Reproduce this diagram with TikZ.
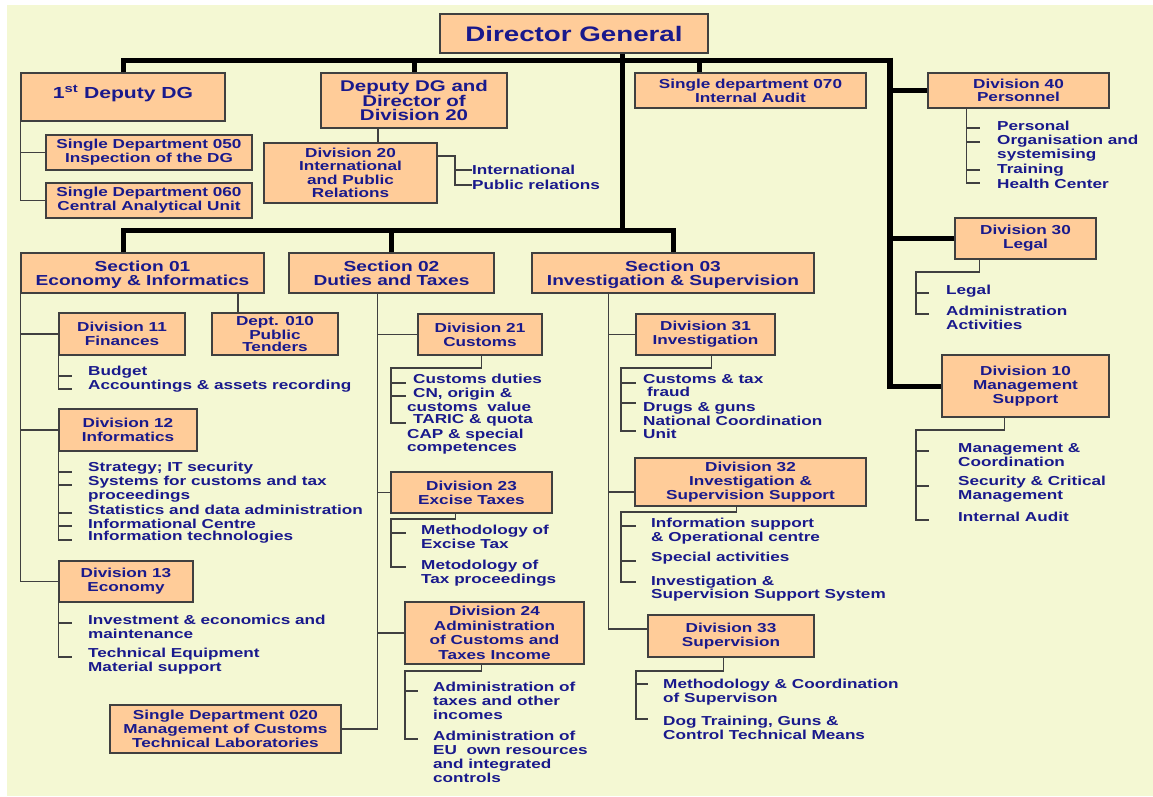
\documentclass[tikz,border=0pt]{standalone}
\usepackage{fontspec}
\setmainfont{Liberation Sans}[FakeStretch=1.32]
\definecolor{paper}{RGB}{244,248,211}
\definecolor{peach}{RGB}{255,204,153}
\definecolor{inkblue}{RGB}{25,25,140}
\definecolor{edge}{RGB}{64,64,64}
\newcommand\fs[2]{\fontsize{#1}{#2}\selectfont\bfseries}
% box: [options]{name}{x1}{y1}{x2}{y2}{text}
\newcommand\bx[7][]{\node[box, minimum width={(#5)-(#3)}, minimum height={(#6)-(#4)}, #1]
  (#2) at ({((#3)+(#5))/2},{((#4)+(#6))/2}) {#7};}
\tikzset{
  box/.style={draw=edge, line width=1.4pt, fill=peach, inner sep=0pt, align=center,
    text=inkblue, font=\fs{13}{14}},
  item/.style={anchor=west, inner sep=0pt, align=left, text=inkblue, font=\fs{13}{14}},
  main/.style={line width=5pt, black, line join=miter},
  sub/.style={line width=1.4pt, draw=edge},
  sectiontext/.style={font=\fs{14.5}{14.5}, text depth=0pt},
}
\begin{document}
\begin{tikzpicture}[x=1pt,y=-1pt]
\useasboundingbox (0,0) rectangle (1153,796);
\fill[white] (0,0) rectangle (1153,796);
\fill[paper] (7,5) rectangle (1153,796);

% ---- boxes ----
\bx[font=\fs{21}{24}]{dg}{440}{14}{708}{53}{Director General}
\bx[font=\fs{16}{18}, text depth=11pt]{dep1}{21}{73}{225}{121}{1\textsuperscript{st} Deputy DG}
\bx[font=\fs{15.5}{14.5}]{dep2}{321}{73}{507}{128}{Deputy DG and\\Director of\\Division 20}
\bx[font=\fs{13}{13.5}]{div20}{264}{143}{437}{203}{Division 20\\International\\and Public\\Relations}
\bx{sd050}{46}{135}{252}{170}{Single Department 050\\Inspection of the DG}
\bx{sd060}{46}{183}{252}{218}{Single Department 060\\Central Analytical Unit}
\bx{audit}{635}{73}{866}{108}{Single department 070\\Internal Audit}
\bx[font=\fs{13}{12.5}]{div40}{928}{73}{1109}{108}{Division 40\\Personnel}
\bx{div30}{955}{218}{1096}{259}{Division 30\\Legal}
\bx{div10}{942}{355}{1109}{417}{Division 10\\Management\\Support}
\bx[sectiontext]{sec1}{21}{253}{264}{293}{Section 01\\Economy \& Informatics}
\bx[sectiontext]{sec2}{289}{253}{494}{293}{Section 02\\Duties and Taxes}
\bx[sectiontext]{sec3}{532}{253}{814}{293}{Section 03\\Investigation \& Supervision}
\bx{div11}{59}{313}{185}{355}{Division 11\\Finances}
\bx[font=\fs{13}{12}]{dept010}{212}{313}{338}{355}{Dept. 010\\Public\\Tenders}
\bx{div12}{59}{409}{197}{451}{Division 12\\Informatics}
\bx{div13}{59}{561}{193}{602}{Division 13\\Economy}
\bx{sd020}{110}{705}{341}{753}{Single Department 020\\Management of Customs\\Technical Laboratories}
\bx{div21}{418}{314}{542}{355}{Division 21\\Customs}
\bx{div23}{391}{472}{552}{513}{Division 23\\Excise Taxes}
\bx[font=\fs{13}{14.5}]{div24}{405}{602}{584}{664}{Division 24\\Administration\\of Customs and\\Taxes Income}
\bx{div31}{636}{314}{775}{355}{Division 31\\Investigation}
\bx{div32}{635}{458}{866}{506}{Division 32\\Investigation \&\\Supervision Support}
\bx{div33}{648}{615}{814}{657}{Division 33\\Supervision}

% ---- main hierarchy ----
\coordinate (tb) at (0,60);
\coordinate (sb) at (0,230);
\coordinate (rs) at (890,60);
\draw[main] (dep1.north) -- (dep1.north |- tb) -- (rs) -- (rs |- div10.west) -- (div10.west);
\draw[line width=6.5pt] ([yshift=2.5]rs) -- ([yshift=-3.25]rs |- div10.west);
\draw[main] (dep2.north) -- (dep2.north |- tb);
\draw[main] ([xshift=-51]audit.north) -- ([xshift=-51]audit.north |- tb);
\draw[main] (div40.west) -- (div40.west -| rs);
\draw[main] (div30.west) -- (div30.west -| rs);
\draw[main] ([xshift=48]dg.south) -- ([xshift=48]dg.south |- sb);
\draw[main] ([xshift=-19.5]sec1.north) -- ([xshift=-19.5]sec1.north |- sb) -- (sec3.north |- sb) -- (sec3.north);
\draw[main] (sec2.north) -- (sec2.north |- sb);

% ---- 1st deputy ----
\draw[sub] (dep1.south west) |- (sd060.west);
\draw[sub] (sd050.west) -- (sd050.west -| dep1.south west);

% ---- deputy DG / division 20 ----
\draw[sub] ([xshift=-36]dep2.south) -- ([xshift=-36]dep2.south |- div20.north);
\node[item] (i20a) at (472,170) {International};
\node[item] (i20b) at (472,185) {Public relations};
\draw[sub] ([yshift=17]div20.east) -| ([xshift=-17]i20b.west) -- (i20b.west);
\draw[sub] ([xshift=-17]i20a.west) -- (i20a.west);

% ---- division 40 ----
\coordinate (s40) at ([xshift=39]div40.south west);
\coordinate (t40a) at (980,128); \coordinate (t40b) at (980,142);
\coordinate (t40c) at (980,170); \coordinate (t40d) at (980,183);
\draw[sub] (s40) |- (t40d);
\foreach \t in {t40a,t40b,t40c} \draw[sub] (\t -| s40) -- (\t);
\node[item] (p1) at (997,126) {Personal};
\node[item] (p2) at (997,148) {Organisation and\\systemising};
\node[item] (p3) at (997,170) {Training};
\node[item] (p4) at (997,184) {Health Center};

% ---- division 30 ----
\coordinate (s30) at ([xshift=25]div30.south west);
\coordinate (j30) at (916,272);
\coordinate (t30a) at (929,293); \coordinate (t30b) at (929,314);
\draw[sub] (s30) |- (j30) |- (t30b);
\draw[sub] (t30a -| j30) -- (t30a);
\node[item] (l1) at (946,291) {Legal};
\node[item] (l2) at (946,318) {Administration\\Activities};

% ---- division 10 ----
\coordinate (s10) at ([xshift=63]div10.south west);
\coordinate (j10) at (916,430);
\coordinate (t10a) at (929,451); \coordinate (t10b) at (929,486); \coordinate (t10c) at (929,520);
\draw[sub] (s10) |- (j10) |- (t10c);
\foreach \t in {t10a,t10b} \draw[sub] (\t -| j10) -- (\t);
\node[item] (m1) at (958,455.5) {Management \&\\Coordination};
\node[item] (m2) at (958,489.5) {Security \& Critical\\Management};
\node[item] (m3) at (958,517) {Internal Audit};

% ---- section 01 ----
\draw[sub] (sec1.south west) |- (div13.west);
\draw[sub] (div11.west) -- (div11.west -| sec1.south west);
\draw[sub] (div12.west) -- (div12.west -| sec1.south west);
\draw[sub] ([xshift=-37]dept010.north) -- ([xshift=-37]dept010.north |- sec1.south);

\coordinate (t11a) at (72,376); \coordinate (t11b) at (72,389);
\draw[sub] (div11.south west) |- (t11b);
\draw[sub] (t11a -| div11.south west) -- (t11a);
\node[item] (f1) at (88,372) {Budget};
\node[item] (f2) at (88,386) {Accountings \& assets recording};

\coordinate (t12a) at (72,472); \coordinate (t12b) at (72,485); \coordinate (t12c) at (72,513);
\coordinate (t12d) at (72,526); \coordinate (t12e) at (72,540);
\draw[sub] (div12.south west) |- (t12e);
\foreach \t in {t12a,t12b,t12c,t12d} \draw[sub] (\t -| div12.south west) -- (\t);
\node[item] (n1) at (88,468) {Strategy; IT security};
\node[item] (n2) at (88,489) {Systems for customs and tax\\proceedings};
\node[item] (n3) at (88,510) {Statistics and data administration};
\node[item] (n4) at (88,524) {Informational Centre};
\node[item] (n5) at (88,537) {Information technologies};

\coordinate (t13a) at (72,623); \coordinate (t13b) at (72,657);
\draw[sub] (div13.south west) |- (t13b);
\draw[sub] (t13a -| div13.south west) -- (t13a);
\node[item] (e1) at (88,626.5) {Investment \& economics and\\maintenance};
\node[item] (e2) at (88,661.5) {Technical Equipment\\Material support};

% ---- section 02 ----
\coordinate (s02) at ([xshift=89]sec2.south west);
\draw[sub] (s02) |- (sd020.east);
\draw[sub] (div21.west) -- (div21.west -| s02);
\draw[sub] (div23.west) -- (div23.west -| s02);
\draw[sub] (div24.west) -- (div24.west -| s02);

\coordinate (s21) at ([xshift=64]div21.south west);
\coordinate (j21) at (391,368);
\coordinate (t21a) at (406,383); \coordinate (t21b) at (406,396); \coordinate (t21c) at (406,423);
\draw[sub] (s21) |- (j21) |- (t21c);
\foreach \t in {t21a,t21b} \draw[sub] (\t -| j21) -- (\t);
\node[item] (c1) at (413,379) {Customs duties};
\node[item] (c2) at (413,394) {CN, origin \&};
\node[item] (c3) at (407,407) {customs\ \ value};
\node[item] (c4) at (413,420) {TARIC \& quota};
\node[item] (c5) at (407,435) {CAP \& special};
\node[item] (c6) at (407,449) {competences};

\coordinate (s23) at ([xshift=65]div23.south west);
\coordinate (j23) at (391,519);
\coordinate (t23a) at (406,533); \coordinate (t23b) at (406,567);
\draw[sub] (s23) |- (j23) |- (t23b);
\draw[sub] (t23a -| j23) -- (t23a);
\node[item] (x1) at (421,537) {Methodology of\\Excise Tax};
\node[item] (x2) at (421,573.5) {Metodology of\\Tax proceedings};

\coordinate (s24) at ([xshift=77]div24.south west);
\coordinate (j24) at (405,671);
\coordinate (t24a) at (418,691); \coordinate (t24b) at (418,739);
\draw[sub] (s24) |- (j24) |- (t24b);
\draw[sub] (t24a -| j24) -- (t24a);
\node[item] (a1) at (433,701) {Administration of\\taxes and other\\incomes};
\node[item] (a2) at (433,756.5) {Administration of\\EU\ \ own resources\\and integrated\\controls};

% ---- section 03 ----
\coordinate (s03) at ([xshift=77]sec3.south west);
\draw[sub] (s03) |- ([yshift=7]div33.west);
\draw[sub] (div31.west) -- (div31.west -| s03);
\draw[sub] ([yshift=-10]div32.west) -- ([yshift=-10]div32.west -| s03);

\coordinate (s31) at ([xshift=76]div31.south west);
\coordinate (j31) at (621,368);
\coordinate (t31a) at (636,383); \coordinate (t31b) at (636,403); \coordinate (t31c) at (636,431);
\draw[sub] (s31) |- (j31) |- (t31c);
\foreach \t in {t31a,t31b} \draw[sub] (\t -| j31) -- (\t);
\node[item] (v1) at (643,379) {Customs \& tax};
\node[item] (v2) at (647,392) {fraud};
\node[item] (v3) at (643,408) {Drugs \& guns};
\node[item] (v4) at (643,421) {National Coordination};
\node[item] (v5) at (643,434) {Unit};

\coordinate (s32) at ([xshift=102]div32.south west);
\coordinate (j32) at (621,512);
\coordinate (t32a) at (636,526); \coordinate (t32b) at (636,561); \coordinate (t32c) at (636,582);
\draw[sub] (s32) |- (j32) |- (t32c);
\foreach \t in {t32a,t32b} \draw[sub] (\t -| j32) -- (\t);
\node[item] (w1) at (651,531.5) {Information support\\\& Operational centre};
\node[item] (w2) at (651,558) {Special activities};
\node[item, font=\fs{13}{12}] (w3) at (651,589) {Investigation \&\\Supervision Support System};

\coordinate (s33) at ([xshift=76]div33.south west);
\coordinate (j33) at (636,671);
\coordinate (t33a) at (648,684); \coordinate (t33b) at (648,719);
\draw[sub] (s33) |- (j33) |- (t33b);
\draw[sub] (t33a -| j33) -- (t33a);
\node[item] (o1) at (663,692.5) {Methodology \& Coordination\\of Supervison};
\node[item] (o2) at (663,728) {Dog Training, Guns \&\\Control Technical Means};
\end{tikzpicture}
\end{document}
